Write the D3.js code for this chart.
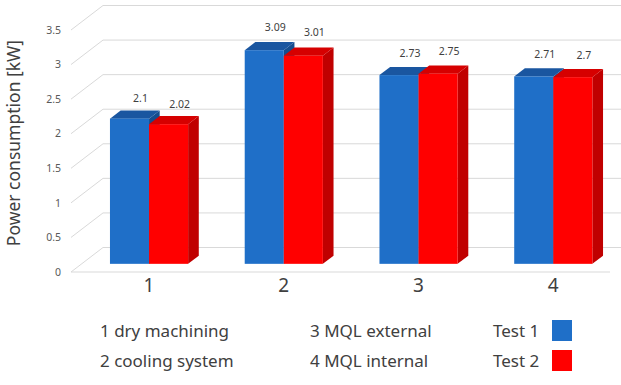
<!DOCTYPE html>
<html>
<head>
<meta charset="utf-8">
<script src="https://cdn.jsdelivr.net/npm/d3@7"></script>
<style>
  html, body { margin: 0; padding: 0; background: #fff; }
  svg { display: block; font-family: "Noto Sans", sans-serif; }
</style>
</head>
<body>
<script>
// data
const categories = ["1", "2", "3", "4"];
const seriesNames = ["Test 1", "Test 2"];
const test1 = [2.1, 3.09, 2.73, 2.71];
const test2 = [2.02, 3.01, 2.75, 2.7];
const yTicks = [0, 0.5, 1, 1.5, 2, 2.5, 3, 3.5];
const legendCats = ["1 dry machining", "2 cooling system", "3 MQL external", "4 MQL internal"];

const width = 621, height = 385;
const x0 = 71, plotW = 539;
const depthX = 32, depthY = -24.5;     // floor depth vector
const barDX = depthX / 3, barDY = depthY / 3;

const colors = {
  "Test 1": { front: "#1f6fc8", top: "#1a56a0", side: "#154d8e" },
  "Test 2": { front: "#ff0000", top: "#d60000", side: "#c00000" }
};

const svg = d3.select("body").append("svg")
  .attr("width", width)
  .attr("height", height);

const y = d3.scaleLinear().domain([0, 3.5]).range([272, 30]);

const x = d3.scaleBand()
  .domain(categories)
  .range([x0, x0 + plotW])
  .paddingInner(0.42)
  .paddingOuter(0.21);

const xs = d3.scaleBand().domain(seriesNames).range([0, x.bandwidth()]);

// grid: left wall diagonals + back wall lines
const grid = svg.append("g").attr("stroke", "#d9d9d9").attr("fill", "none");
yTicks.forEach(v => {
  grid.append("path")
    .attr("d", `M${x0},${y(v)}L${x0 + depthX},${y(v) + depthY}L${x0 + plotW + depthX},${y(v) + depthY}`);
});
grid.append("line")
  .attr("x1", x0).attr("x2", x0 + plotW)
  .attr("y1", y(0)).attr("y2", y(0));

// y tick labels
svg.append("g").selectAll("text")
  .data(yTicks)
  .join("text")
  .attr("x", 61)
  .attr("y", d => y(d))
  .attr("dy", "0.35em")
  .attr("text-anchor", "end")
  .attr("font-size", 10.5)
  .attr("fill", "#595959")
  .text(d => d);

// bars as boxes
const rows = [];
categories.forEach((c, i) => {
  rows.push({ cat: c, series: "Test 1", value: test1[i] });
  rows.push({ cat: c, series: "Test 2", value: test2[i] });
});

const bars = svg.append("g");
rows.forEach(d => {
  const bx = x(d.cat) + xs(d.series) + barDX;
  const bw = xs.bandwidth();
  const yb = y(0) + barDY;
  const yt = y(d.value) + barDY;
  const c = colors[d.series];
  const g = bars.append("g");
  // side
  g.append("path")
    .attr("d", `M${bx + bw},${yt}L${bx + bw + barDX},${yt + barDY}L${bx + bw + barDX},${yb + barDY}L${bx + bw},${yb}Z`)
    .attr("fill", c.side);
  // top
  g.append("path")
    .attr("d", `M${bx},${yt}L${bx + barDX},${yt + barDY}L${bx + bw + barDX},${yt + barDY}L${bx + bw},${yt}Z`)
    .attr("fill", c.top);
  // front
  g.append("rect")
    .attr("x", bx).attr("y", yt)
    .attr("width", bw).attr("height", yb - yt)
    .attr("fill", c.front);
});

// value labels
svg.append("g").selectAll("text")
  .data(rows)
  .join("text")
  .attr("x", d => x(d.cat) + xs(d.series) + barDX + xs.bandwidth() / 2 + 11)
  .attr("y", d => y(d.value) + barDY - (14 + 3 * d.value))
  .attr("dy", "0.35em")
  .attr("text-anchor", "middle")
  .attr("font-size", 10.5)
  .attr("fill", "#404040")
  .text(d => d.value);

// category labels
svg.append("g").selectAll("text")
  .data(categories)
  .join("text")
  .attr("x", d => x(d) + x.bandwidth() / 2 + barDX)
  .attr("y", 285)
  .attr("dy", "0.35em")
  .attr("text-anchor", "middle")
  .attr("font-size", 19)
  .attr("fill", "#404040")
  .text(d => d);

// y axis title
svg.append("text")
  .attr("transform", "translate(14,143) rotate(-90)")
  .attr("dy", "0.35em")
  .attr("text-anchor", "middle")
  .attr("font-size", 17.5)
  .attr("fill", "#404040")
  .text("Power consumption [kW]");

// legend
const legend = svg.append("g").attr("font-size", 17).attr("fill", "#404040");
legendCats.forEach((t, i) => {
  legend.append("text")
    .attr("x", i < 2 ? 100 : 310)
    .attr("y", i % 2 === 0 ? 331 : 361)
    .attr("dy", "0.35em")
    .text(t);
});
seriesNames.forEach((s, i) => {
  legend.append("text")
    .attr("x", 493)
    .attr("y", 331 + i * 30)
    .attr("dy", "0.35em")
    .text(s);
  legend.append("rect")
    .attr("x", 552).attr("y", 320 + i * 30)
    .attr("width", 20).attr("height", 21)
    .attr("fill", colors[s].front);
});
</script>
</body>
</html>
